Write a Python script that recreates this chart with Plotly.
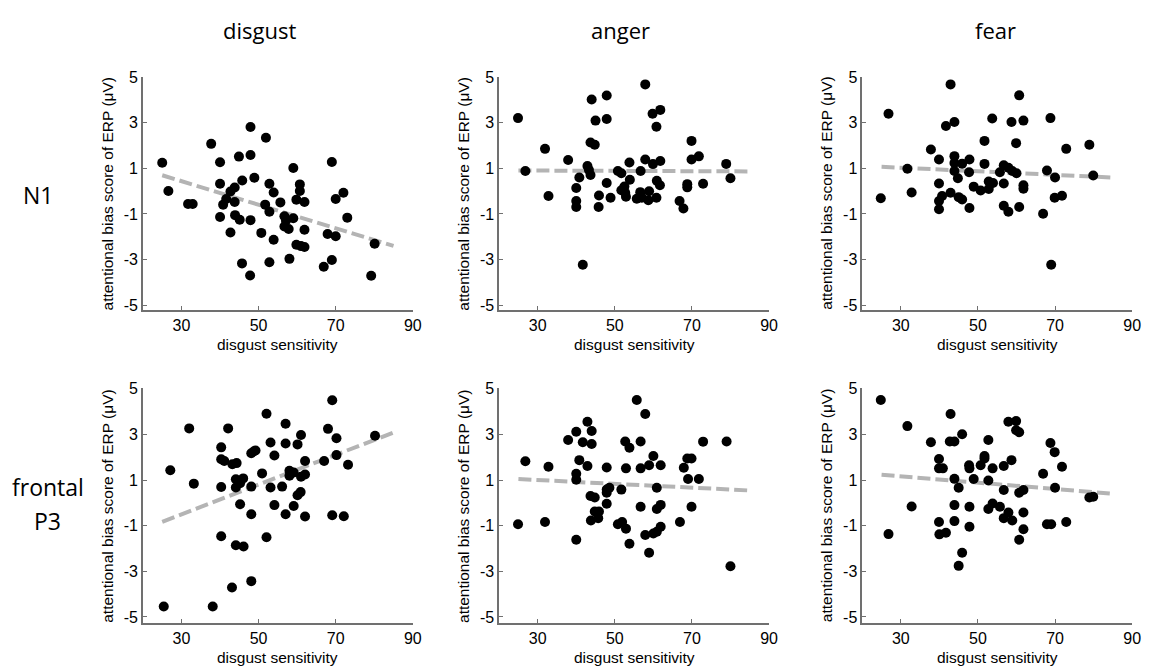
import plotly.graph_objects as go

# ---------------- data ----------------
col_titles = ["disgust", "anger", "fear"]
row_titles = ["N1", "frontal P3"]
x_label = "disgust sensitivity"
y_label = "attentional bias score of ERP (\u03bcV)"
x_ticks = [30, 50, 70, 90]
x_tick_labels = ["30", "50", "70", "90"]
y_ticks = [-5, -3, -1, 1, 3, 5]
y_tick_labels = ["-5", "-3", "-1", "1", "3", "5"]
fit_x = [25, 85]

n1_disgust_x = [25.0, 26.6, 31.7, 32.9, 37.7, 40.0, 40.0, 40.0, 40.8, 41.6, 42.7, 43.8, 42.7, 43.8, 43.9,
                45.1, 44.9, 45.75, 45.7, 47.9, 47.9, 47.9, 47.8, 48.9, 51.9, 51.7, 50.7, 52.8, 52.8, 53.9,
                53.9, 52.8, 55.65, 56.7, 57.1, 56.7, 57.8, 58.0, 59.0, 59.0, 59.8, 60.7, 60.7, 61.9, 59.8,
                61.0, 61.9, 61.9, 66.9, 69.0, 67.9, 70.0, 70.0, 72.0, 73.0, 69.0, 79.2, 80.1]
n1_disgust_y = [1.25, 0.01, -0.56, -0.56, 2.08, 1.27, 0.33, -1.13, -0.59, -0.34, -0.01, 0.16, -1.81, -0.47, -1.05,
                -1.25, 1.52, 0.47, -3.17, 2.82, 1.59, -1.27, -3.70, 0.59, 2.35, -0.59, -1.83, 0.33, -0.90, -0.06,
                -2.13, -3.12, -0.49, -1.10, -1.30, -1.55, -1.66, -2.97, 1.02, -1.19, -0.37, 0.30, 0.01, -0.47, -2.35,
                -2.41, -2.45, -1.69, -3.32, 1.28, -1.88, -1.98, -0.34, -0.07, -1.16, -3.02, -3.71, -2.31]
n1_disgust_fit = [0.70, -2.40]

n1_anger_x = [24.9, 26.8, 31.9, 32.8, 37.9, 40.0, 40.0, 40.0, 40.8, 41.7, 42.9, 43.3, 43.7, 44.0, 43.7,
              44.8, 45.0, 45.9, 45.8, 47.9, 47.9, 47.9, 48.9, 50.8, 51.7, 51.7, 52.5, 52.7, 52.9, 53.8,
              53.9, 55.7, 56.6, 56.7, 57.0, 57.9, 57.9, 58.9, 58.7, 59.8, 59.9, 60.8, 60.9, 60.8, 61.8,
              61.8, 61.7, 66.8, 67.8, 68.8, 68.8, 69.9, 69.9, 71.8, 72.9, 78.9, 80.0]
n1_anger_y = [3.21, 0.89, 1.86, -0.21, 1.37, 0.14, -0.43, -0.69, 0.60, -3.23, 1.11, 0.93, 0.71, 4.03, 2.14,
              2.04, 3.10, -0.19, -0.69, 4.20, 3.17, 0.36, -0.29, 0.89, 0.79, 0.04, 0.21, -0.07, -0.24, 1.26,
              0.50, -0.33, -0.04, 0.89, -0.29, 4.69, 1.39, 0.00, -0.40, 3.40, 1.19, 2.83, 0.46, -0.29, 3.57,
              1.33, 0.26, -0.43, -0.76, 0.31, 0.17, 2.21, 1.39, 1.53, 0.33, 1.20, 0.57]
n1_anger_fit = [0.91, 0.87]

n1_fear_x = [24.8, 26.8, 31.7, 32.8, 37.8, 39.9, 39.9, 39.9, 39.9, 40.7, 41.7, 42.9, 42.9, 43.9, 43.9,
             43.9, 43.9, 44.8, 45.0, 45.9, 45.9, 47.8, 47.7, 47.8, 48.9, 50.7, 51.7, 51.7, 52.8, 52.8,
             53.7, 53.9, 55.7, 56.7, 56.7, 56.7, 57.9, 57.9, 58.7, 58.9, 59.9, 60.0, 60.7, 60.7, 61.8,
             61.8, 61.8, 66.9, 67.9, 68.8, 69.0, 70.0, 69.9, 71.8, 72.9, 78.9, 79.9]
n1_fear_y = [-0.31, 3.40, 0.99, -0.06, 1.83, 1.39, 0.34, -0.43, -0.79, -0.21, 2.86, 4.69, -0.07, 3.04, 1.54,
             1.24, 0.89, 0.57, -0.26, -0.36, 1.21, 1.39, 0.83, -0.74, 0.20, 0.03, 2.21, 1.20, 0.43, 0.10,
             3.19, 0.36, 0.83, 1.14, 0.34, -0.64, -0.90, 1.03, 3.04, 0.89, 2.11, 0.79, 4.21, -0.69, 3.10,
             0.26, 0.11, -0.99, 0.91, 3.21, -3.23, 0.60, -0.29, -0.20, 1.86, 2.04, 0.69]
n1_fear_fit = [1.07, 0.60]

p3_disgust_x = [25.4, 27.1, 32.0, 33.2, 38.1, 40.3, 40.3, 40.3, 40.3, 41.1, 42.1, 43.2, 44.3, 44.1, 44.1,
                43.1, 44.1, 45.2, 46.0, 45.2, 46.1, 48.1, 48.8, 49.2, 48.1, 48.1, 48.1, 50.9, 52.05, 52.05,
                53.1, 53.1, 54.1, 54.1, 56.1, 57.0, 57.0, 57.0, 58.0, 58.0, 59.1, 59.1, 60.1, 60.1, 60.9,
                61.0, 61.0, 62.05, 62.05, 62.05, 67.0, 68.0, 69.1, 69.1, 70.2, 70.2, 72.1, 73.2, 80.2]
p3_disgust_y = [-4.54, 1.43, 3.26, 0.84, -4.54, 2.43, 1.91, 0.69, -1.46, 1.83, 3.26, 1.69, 1.74, 1.03, 0.67,
                -3.71, -1.86, 0.86, 1.07, -0.06, -1.91, 2.17, 2.26, 2.29, 0.71, -0.50, -3.43, 1.29, 3.90, -1.51,
                2.64, 0.67, 2.07, -0.10, 0.71, 3.46, 2.60, -0.50, 1.40, 1.19, 1.33, -0.14, 2.56, 0.33, 0.47,
                2.97, 1.14, 1.83, 1.24, -0.60, 1.83, 3.24, 4.49, -0.54, 2.83, 2.09, -0.59, 1.67, 2.94]
p3_disgust_fit = [-0.83, 3.08]

p3_anger_x = [24.9, 26.8, 31.9, 32.8, 37.9, 40.0, 40.0, 40.0, 40.0, 40.8, 41.7, 42.9, 42.9, 44.0, 44.0,
              43.7, 44.8, 43.8, 44.8, 45.9, 45.7, 47.9, 47.9, 47.9, 48.6, 47.9, 50.8, 51.7, 51.9, 52.9,
              52.7, 52.9, 53.8, 53.8, 56.7, 56.7, 56.7, 55.7, 57.9, 57.9, 58.9, 58.9, 60.0, 60.0, 60.9,
              60.9, 60.9, 61.9, 61.9, 61.9, 66.9, 67.9, 68.8, 69.0, 69.9, 69.9, 71.8, 72.9, 79.0, 80.0]
p3_anger_y = [-0.94, 1.82, -0.84, 1.58, 2.75, 3.11, 1.27, 1.01, -1.62, 1.87, 2.65, 3.55, 1.61, 3.15, 2.58,
              0.30, 0.23, -0.77, -0.38, -0.38, -0.67, 1.55, 0.58, 0.44, 0.66, -0.04, -0.94, 0.58, -0.84, -1.13,
              2.69, 1.51, 2.41, -1.79, 2.69, 1.51, -0.17, 4.50, 3.89, -1.41, 1.65, -2.19, 2.05, -1.34, 0.66,
              -0.27, -1.27, 1.65, -0.09, -1.05, -0.84, 1.54, 1.94, 1.04, 1.94, -0.17, 1.04, 2.68, 2.69, -2.78]
p3_anger_fit = [1.04, 0.54]

p3_fear_x = [24.8, 26.8, 31.7, 32.8, 37.8, 39.9, 39.9, 39.9, 40.0, 40.9, 41.7, 42.9, 42.7, 43.9, 43.9,
             43.9, 43.9, 45.0, 45.9, 45.9, 45.0, 47.7, 47.8, 47.8, 47.8, 48.9, 50.7, 51.7, 51.7, 52.7,
             52.7, 52.7, 53.8, 53.8, 55.7, 56.7, 56.7, 56.7, 57.9, 57.9, 58.7, 58.9, 59.9, 59.9, 60.7,
             60.7, 60.7, 61.8, 61.8, 61.8, 66.9, 67.9, 68.8, 69.0, 69.9, 70.0, 71.8, 72.9, 78.9, 79.9]
p3_fear_y = [4.50, -1.37, 3.36, -0.16, 2.65, 1.92, 1.51, -0.84, -1.38, 1.51, -1.31, 3.89, 2.69, 2.69, 1.05,
             -0.10, -0.80, 0.66, 3.00, -2.19, -2.76, 1.65, 1.51, -0.17, -1.05, 1.04, 1.65, 1.94, 2.05, 2.75,
             0.98, -0.27, 1.51, -0.03, -0.17, 1.61, 0.56, -0.67, 3.55, -0.42, 1.87, -0.77, 3.58, 3.18, 3.09,
             0.44, -1.62, 0.56, -0.42, -1.16, 1.27, -0.94, 2.62, -0.94, 2.22, 0.66, 1.58, -0.84, 0.23, 0.27]
p3_fear_fit = [1.23, 0.40]

panels = [
    (n1_disgust_x, n1_disgust_y, n1_disgust_fit),
    (n1_anger_x, n1_anger_y, n1_anger_fit),
    (n1_fear_x, n1_fear_y, n1_fear_fit),
    (p3_disgust_x, p3_disgust_y, p3_disgust_fit),
    (p3_anger_x, p3_anger_y, p3_anger_fit),
    (p3_fear_x, p3_fear_y, p3_fear_fit),
]

# ---------------- layout geometry (screen pixels) ----------------
W, H = 1153, 670
OFF = 8  # page body margin shifts the figure by this many pixels


def px(sx):
    return (sx - OFF) / W


def py(sy):
    return 1 - (sy - OFF) / H


col_px = [(144, 416), (503, 775), (869, 1141)]
row_px = [(70, 307), (387, 626)]
row_yrange = [[-5.2, 5.02], [-5.26, 5.02]]

fig = go.Figure()
AX_COLOR = "#707070"
TICK_FONT = dict(family="Liberation Sans, Arial, sans-serif", size=16, color="black")
LABEL_FONT = dict(family="Liberation Sans, Arial, sans-serif", size=15.5, color="black")

annotations = []
for i, (xs, ys, fy) in enumerate(panels):
    r, c = divmod(i, 3)
    k = "" if i == 0 else str(i + 1)
    xa, ya = "x" + k, "y" + k
    fig.add_trace(go.Scatter(x=fit_x, y=fy, mode="lines", xaxis=xa, yaxis=ya,
                             line=dict(color="#b4b4b4", width=4, dash="13px,5px"),
                             showlegend=False, hoverinfo="skip"))
    fig.add_trace(go.Scatter(x=xs, y=ys, mode="markers", xaxis=xa, yaxis=ya,
                             marker=dict(color="black", size=10, line=dict(width=0)),
                             showlegend=False))
    x0, x1 = col_px[c]
    y0, y1 = row_px[r]
    common = dict(showline=True, linecolor=AX_COLOR, linewidth=1.5, ticks="inside",
                  ticklen=4, tickcolor=AX_COLOR, tickwidth=1, showgrid=False, zeroline=False,
                  tickfont=TICK_FONT, fixedrange=True)
    fig.layout["xaxis" + k] = dict(domain=[px(x0), px(x1)], range=[20, 90], tickvals=x_ticks,
                                   ticktext=x_tick_labels, anchor=ya, **common)
    fig.layout["yaxis" + k] = dict(domain=[py(y1), py(y0)], range=row_yrange[r],
                                   tickvals=y_ticks, ticktext=y_tick_labels, anchor=xa, **common)
    # axis titles
    annotations.append(dict(text=x_label, x=px((x0 + x1) / 2), y=py(y1 + 35),
                            xref="paper", yref="paper", showarrow=False,
                            xanchor="center", yanchor="middle", font=LABEL_FONT))
    annotations.append(dict(text=y_label, x=px(x0 - 36), y=py((y0 + y1) / 2),
                            xref="paper", yref="paper", showarrow=False, textangle=-90,
                            xanchor="center", yanchor="middle", font=LABEL_FONT))

TITLE_FONT = dict(family="Open Sans, Lato, sans-serif", size=22, color="black")
ROW_FONT = dict(family="Open Sans, Lato, sans-serif", size=23, color="black")
for t, xc in zip(col_titles, [261, 625, 1003]):
    annotations.append(dict(text=t, x=px(xc), y=py(22), xref="paper", yref="paper",
                            showarrow=False, xanchor="center", yanchor="middle", font=TITLE_FONT))
annotations.append(dict(text=row_titles[0], x=px(38), y=py(190), xref="paper", yref="paper",
                        showarrow=False, xanchor="center", yanchor="middle", font=ROW_FONT))
rt2 = row_titles[1].split(" ")
annotations.append(dict(text=rt2[0], x=px(48), y=py(488), xref="paper", yref="paper",
                        showarrow=False, xanchor="center", yanchor="middle", font=ROW_FONT))
annotations.append(dict(text=rt2[1], x=px(48), y=py(522), xref="paper", yref="paper",
                        showarrow=False, xanchor="center", yanchor="middle", font=ROW_FONT))

fig.update_layout(width=W, height=H, margin=dict(l=0, r=0, t=0, b=0),
                  paper_bgcolor="white", plot_bgcolor="white",
                  annotations=annotations, showlegend=False)

fig.write_html("out.html")
